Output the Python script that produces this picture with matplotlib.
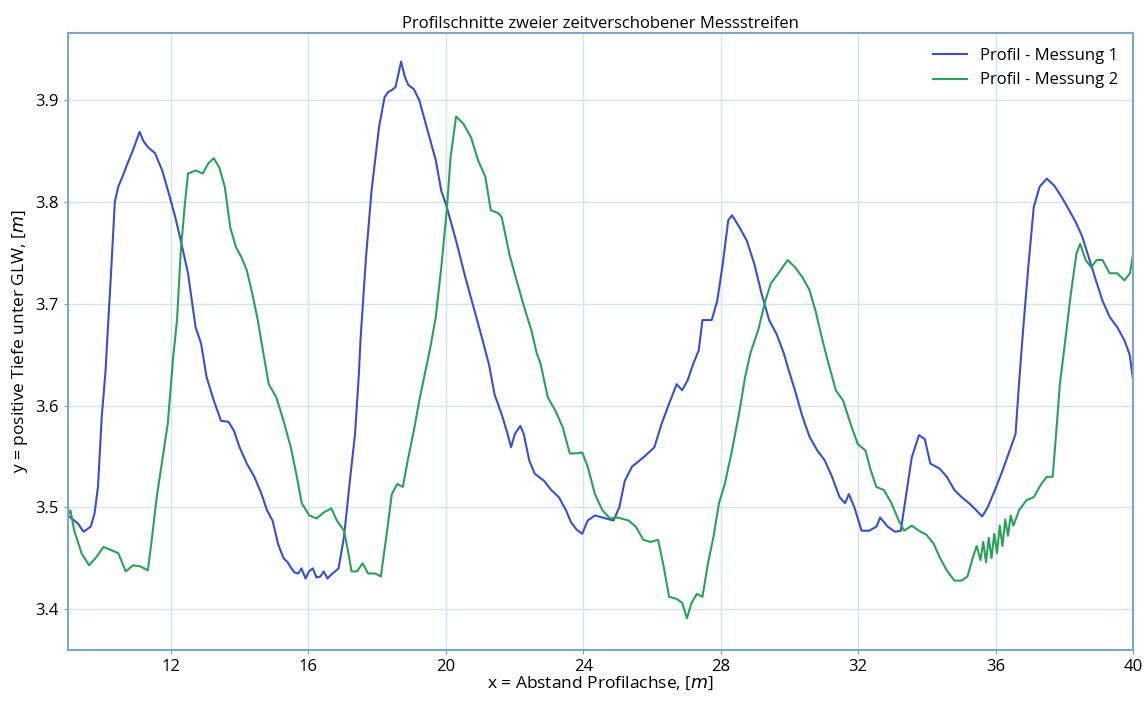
#!/usr/bin/env python3
import numpy as np
import matplotlib
matplotlib.use("Agg")
import matplotlib.pyplot as plt

# Profil - Messung 1
x1 = [9.0, 9.08, 9.30, 9.46, 9.67, 9.78, 9.88, 9.99, 10.10, 10.15, 10.26, 10.37,
      10.47, 10.63, 10.74, 10.90, 11.09, 11.20, 11.33, 11.54, 11.75, 11.97, 12.13,
      12.29, 12.50, 12.72, 12.88, 13.04, 13.25, 13.46, 13.68, 13.84, 14.00, 14.21,
      14.43, 14.64, 14.80, 14.96, 15.12, 15.28, 15.40, 15.49, 15.60, 15.71, 15.80,
      15.92, 16.02, 16.13, 16.24, 16.35, 16.45, 16.56, 16.67, 16.78, 16.88, 17.04,
      17.20, 17.36, 17.47, 17.52, 17.68, 17.84, 18.06, 18.22, 18.32, 18.43, 18.54,
      18.70, 18.81, 18.91, 19.07, 19.23, 19.50, 19.71, 19.87, 20.03, 20.30, 20.57,
      20.84, 21.05, 21.26, 21.42, 21.64, 21.80, 21.90, 22.01, 22.17, 22.27, 22.43,
      22.59, 22.86, 23.07, 23.29, 23.50, 23.65, 23.81, 23.97, 24.13, 24.34, 24.67,
      24.88, 25.05, 25.21, 25.42, 25.75, 26.07, 26.28, 26.50, 26.72, 26.88, 27.04,
      27.20, 27.36, 27.47, 27.74, 27.90, 28.06, 28.22, 28.33, 28.55, 28.76, 28.98,
      29.19, 29.41, 29.63, 29.84, 29.95, 30.16, 30.38, 30.59, 30.81, 31.03, 31.24,
      31.46, 31.62, 31.73, 31.89, 32.10, 32.32, 32.53, 32.64, 32.86, 33.07, 33.24,
      33.40, 33.56, 33.77, 33.94, 34.10, 34.37, 34.58, 34.80, 35.01, 35.23, 35.44,
      35.61, 35.77, 35.98, 36.20, 36.41, 36.58, 36.68, 36.79, 36.95, 37.11, 37.28,
      37.49, 37.71, 37.92, 38.14, 38.35, 38.52, 38.68, 38.89, 39.11, 39.32, 39.54,
      39.75, 39.90, 40.0]
y1 = [3.492, 3.490, 3.484, 3.476, 3.481, 3.494, 3.520, 3.589, 3.634, 3.665, 3.730,
      3.800, 3.815, 3.828, 3.838, 3.851, 3.869, 3.860, 3.854, 3.848, 3.831, 3.805,
      3.785, 3.762, 3.730, 3.677, 3.661, 3.628, 3.605, 3.585, 3.584, 3.575, 3.559,
      3.543, 3.530, 3.513, 3.497, 3.487, 3.464, 3.450, 3.446, 3.441, 3.436, 3.435,
      3.440, 3.430, 3.437, 3.440, 3.431, 3.432, 3.437, 3.430, 3.434, 3.437, 3.440,
      3.471, 3.523, 3.572, 3.630, 3.665, 3.746, 3.811, 3.874, 3.903, 3.908, 3.910,
      3.913, 3.938, 3.923, 3.915, 3.911, 3.900, 3.867, 3.841, 3.811, 3.795, 3.762,
      3.726, 3.693, 3.667, 3.640, 3.611, 3.590, 3.572, 3.559, 3.572, 3.580, 3.572,
      3.546, 3.533, 3.526, 3.517, 3.510, 3.497, 3.485, 3.478, 3.474, 3.487, 3.492,
      3.489, 3.487, 3.500, 3.526, 3.540, 3.549, 3.559, 3.582, 3.602, 3.621, 3.615,
      3.625, 3.641, 3.654, 3.684, 3.684, 3.703, 3.739, 3.782, 3.787, 3.775, 3.762,
      3.739, 3.710, 3.684, 3.670, 3.651, 3.638, 3.615, 3.589, 3.569, 3.556, 3.546,
      3.530, 3.510, 3.504, 3.513, 3.500, 3.477, 3.477, 3.481, 3.490, 3.481, 3.476,
      3.477, 3.513, 3.549, 3.571, 3.567, 3.543, 3.538, 3.530, 3.517, 3.510, 3.504,
      3.497, 3.491, 3.500, 3.517, 3.536, 3.556, 3.572, 3.621, 3.670, 3.736, 3.795,
      3.815, 3.823, 3.816, 3.805, 3.792, 3.779, 3.766, 3.749, 3.726, 3.703, 3.687,
      3.677, 3.664, 3.650, 3.625]

# Profil - Messung 2
x2 = [9.0, 9.08, 9.19, 9.40, 9.62, 9.83, 10.04, 10.26, 10.47, 10.69, 10.90, 11.11,
      11.33, 11.43, 11.59, 11.75, 11.91, 12.02, 12.07, 12.18, 12.29, 12.40, 12.50,
      12.72, 12.93, 13.09, 13.25, 13.41, 13.57, 13.73, 13.89, 14.05, 14.21, 14.37,
      14.53, 14.70, 14.85, 15.07, 15.28, 15.49, 15.65, 15.81, 16.03, 16.24, 16.45,
      16.67, 16.83, 17.04, 17.15, 17.26, 17.42, 17.58, 17.74, 17.95, 18.11, 18.27,
      18.43, 18.59, 18.75, 18.91, 19.07, 19.23, 19.39, 19.55, 19.71, 19.87, 20.03,
      20.14, 20.30, 20.51, 20.73, 20.94, 21.15, 21.31, 21.53, 21.63, 21.85, 22.06,
      22.28, 22.49, 22.65, 22.76, 22.97, 23.19, 23.40, 23.61, 23.81, 23.97, 24.13,
      24.34, 24.56, 24.78, 25.00, 25.32, 25.53, 25.75, 25.96, 26.18, 26.34, 26.50,
      26.72, 26.88, 27.02, 27.15, 27.31, 27.47, 27.63, 27.79, 27.95, 28.12, 28.33,
      28.55, 28.71, 28.87, 29.09, 29.30, 29.46, 29.68, 29.95, 30.16, 30.38, 30.59,
      30.76, 30.92, 31.10, 31.35, 31.56, 31.78, 31.99, 32.21, 32.37, 32.53, 32.75,
      32.97, 33.18, 33.34, 33.56, 33.77, 33.99, 34.20, 34.37, 34.58, 34.80, 35.01,
      35.18, 35.34, 35.45, 35.56, 35.64, 35.72, 35.80, 35.88, 35.96, 36.04, 36.12,
      36.20, 36.28, 36.36, 36.44, 36.52, 36.68, 36.90, 37.11, 37.33, 37.49, 37.66,
      37.76, 37.87, 38.03, 38.19, 38.35, 38.46, 38.62, 38.78, 38.94, 39.11, 39.32,
      39.54, 39.75, 39.91, 40.0]
y2 = [3.492, 3.497, 3.477, 3.455, 3.443, 3.451, 3.461, 3.458, 3.455, 3.437, 3.443,
      3.442, 3.438, 3.464, 3.510, 3.546, 3.582, 3.628, 3.648, 3.684, 3.752, 3.795,
      3.828, 3.831, 3.828, 3.838, 3.843, 3.834, 3.815, 3.775, 3.756, 3.746, 3.733,
      3.710, 3.684, 3.650, 3.621, 3.608, 3.585, 3.559, 3.533, 3.504, 3.492, 3.489,
      3.495, 3.499, 3.487, 3.477, 3.458, 3.437, 3.437, 3.445, 3.435, 3.435, 3.432,
      3.471, 3.513, 3.523, 3.520, 3.549, 3.575, 3.605, 3.631, 3.657, 3.687, 3.736,
      3.792, 3.844, 3.884, 3.877, 3.864, 3.841, 3.825, 3.792, 3.789, 3.785, 3.749,
      3.723, 3.697, 3.674, 3.651, 3.641, 3.608, 3.595, 3.579, 3.553, 3.553, 3.554,
      3.540, 3.513, 3.497, 3.489, 3.490, 3.487, 3.481, 3.468, 3.466, 3.468, 3.442,
      3.412, 3.410, 3.406, 3.391, 3.406, 3.415, 3.412, 3.445, 3.471, 3.504, 3.523,
      3.556, 3.595, 3.628, 3.652, 3.674, 3.703, 3.720, 3.730, 3.743, 3.736, 3.726,
      3.713, 3.693, 3.670, 3.646, 3.615, 3.605, 3.582, 3.562, 3.556, 3.536, 3.520,
      3.517, 3.504, 3.487, 3.477, 3.482, 3.477, 3.473, 3.464, 3.451, 3.438, 3.428,
      3.428, 3.432, 3.451, 3.462, 3.448, 3.466, 3.446, 3.470, 3.450, 3.474, 3.455,
      3.482, 3.462, 3.488, 3.472, 3.492, 3.482, 3.497, 3.507, 3.510, 3.523, 3.530,
      3.530, 3.572, 3.621, 3.665, 3.710, 3.749, 3.759, 3.743, 3.736, 3.743, 3.743,
      3.730, 3.730, 3.723, 3.730, 3.749]

plt.rcParams["font.family"] = ["Open Sans", "DejaVu Sans"]
fig = plt.figure(figsize=(11.48, 7.04), dpi=100)
ax = fig.add_axes([0.059, 0.077, 0.928, 0.876])

ax.plot(x1, y1, color="#3a50c8", lw=1.5, label="Profil - Messung 1")
ax.plot(x2, y2, color="#2ca05a", lw=1.5, label="Profil - Messung 2")

ax.set_xlim(9, 40)
ax.set_ylim(3.36, 3.966)
ax.set_xticks([12, 16, 20, 24, 28, 32, 36, 40])
ax.set_yticks([3.4, 3.5, 3.6, 3.7, 3.8, 3.9])
ax.tick_params(labelsize=12, color="#7f9fb8", length=3)

ax.grid(True, color="#d6e4f0", linewidth=1)
for s in ax.spines.values():
    s.set_color("#7fa6c4")
    s.set_linewidth(1.5)

ax.set_title("Profilschnitte zweier zeitverschobener Messstreifen",
             fontsize=12, pad=4)
ax.set_xlabel("x = Abstand Profilachse, [$m$]", fontsize=12.5, labelpad=0)
ax.set_ylabel("y = positive Tiefe unter GLW, [$m$]", fontsize=12.5, labelpad=4)
ax.legend(loc="upper right", fontsize=12, frameon=False)

fig.savefig("out.png", dpi=100)
